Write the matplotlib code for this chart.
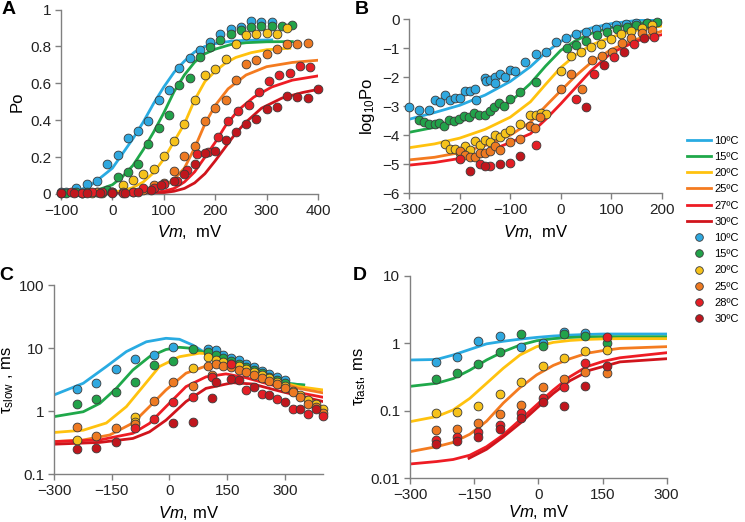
import numpy as np
import matplotlib.pyplot as plt
from matplotlib.lines import Line2D
from matplotlib.ticker import FixedLocator, NullLocator, FixedFormatter

plt.rcParams['font.family'] = ['Liberation Sans', 'DejaVu Sans']
plt.rcParams['mathtext.fontset'] = 'custom'
plt.rcParams['mathtext.rm'] = 'Liberation Sans'
plt.rcParams['mathtext.it'] = 'Liberation Sans:italic'

# ---- colours ----
line_cols = ['#29abe2', '#1fa84a', '#ffc20e', '#f47b20', '#ee1c24', '#d0141c']
dot_cols = ['#2fa8df', '#22a24a', '#f6c21b', '#ee7a22', '#e41e25', '#c0161d']
line_labels = ['10ºC', '15ºC', '20ºC', '25ºC', '27ºC', '30ºC']
dot_labels = ['10ºC', '15ºC', '20ºC', '25ºC', '28ºC', '30ºC']

# ---- panel A : Po vs Vm ----
a_v10 = [-100, -90, -70, -50, -30, -10, 10, 30, 50, 70, 90, 110, 130, 150, 170, 190, 210, 230, 250, 270, 290, 310]
a_p10 = [0.012, 0.012, 0.03, 0.054, 0.072, 0.163, 0.21, 0.305, 0.343, 0.396, 0.51, 0.562, 0.681, 0.735, 0.78, 0.822,
         0.865, 0.892, 0.907, 0.938, 0.934, 0.934]
a_v15 = [-90, -70, -50, -30, -10, 10, 30, 50, 70, 90, 110, 130, 150, 170, 190, 210, 230, 250, 270, 290, 310, 330, 350]
a_p15 = [0.005, 0.008, 0.01, 0.012, 0.02, 0.092, 0.12, 0.165, 0.272, 0.355, 0.427, 0.589, 0.629, 0.744, 0.796, 0.834,
         0.865, 0.89, 0.906, 0.913, 0.913, 0.913, 0.917]
a_v20 = [-60, -40, -20, 0, 20, 40, 60, 80, 100, 120, 140, 160, 180, 200, 220, 240, 260, 280, 300, 320, 340]
a_p20 = [0.005, 0.005, 0.005, 0.01, 0.05, 0.076, 0.11, 0.135, 0.205, 0.285, 0.377, 0.512, 0.647, 0.676, 0.732, 0.813,
         0.86, 0.867, 0.87, 0.867, 0.9]
a_v25 = [-60, -30, 0, 20, 40, 60, 80, 100, 120, 140, 160, 180, 200, 220, 240, 260, 280, 300, 320, 340, 360, 380]
a_p25 = [0.005, 0.01, 0.01, 0.01, 0.01, 0.02, 0.05, 0.06, 0.125, 0.207, 0.26, 0.398, 0.465, 0.51, 0.618, 0.703, 0.726,
         0.759, 0.786, 0.815, 0.815, 0.82]
a_v28 = [-100, -80, -60, -40, -20, 0, 20, 40, 60, 80, 100, 125, 145, 165, 185, 205, 225, 245, 265, 285, 305, 325, 345,
         365, 385]
a_p28 = [0.005, 0.01, 0.005, 0.01, 0.01, 0.01, 0.005, 0.01, 0.03, 0.03, 0.055, 0.07, 0.13, 0.217, 0.229, 0.307, 0.396,
         0.45, 0.481, 0.555, 0.612, 0.643, 0.658, 0.692, 0.688]
a_v30 = [-100, -75, -50, -25, 0, 25, 50, 75, 95, 120, 140, 160, 180, 200, 220, 240, 260, 280, 300, 320, 340, 360, 380,
         400]
a_p30 = [0.005, 0.005, 0.005, 0.005, 0.005, 0.005, 0.01, 0.02, 0.05, 0.07, 0.11, 0.163, 0.22, 0.235, 0.293, 0.338,
         0.379, 0.408, 0.463, 0.47, 0.529, 0.526, 0.522, 0.569]

af_v10 = [-100, -80, -60, -40, -20, 0, 20, 40, 60, 80, 100, 120, 140, 160, 180, 200, 230, 260, 310]
af_p10 = [0.01, 0.015, 0.025, 0.052, 0.095, 0.14, 0.22, 0.30, 0.39, 0.49, 0.58, 0.66, 0.72, 0.77, 0.80, 0.815, 0.828,
          0.833, 0.835]
af_v15 = [-100, -60, -40, -20, 0, 20, 40, 60, 80, 100, 120, 140, 160, 180, 200, 230, 260, 300, 350]
af_p15 = [0.005, 0.008, 0.015, 0.03, 0.05, 0.095, 0.155, 0.24, 0.335, 0.44, 0.555, 0.645, 0.715, 0.76, 0.785, 0.81,
          0.82, 0.825, 0.826]
af_v20 = [-100, -40, 0, 20, 40, 60, 80, 100, 120, 140, 160, 180, 200, 220, 240, 270, 300, 345]
af_p20 = [0.002, 0.003, 0.01, 0.018, 0.035, 0.065, 0.115, 0.19, 0.285, 0.38, 0.51, 0.61, 0.665, 0.71, 0.74, 0.766,
          0.782, 0.79]
af_v25 = [-100, 0, 40, 60, 80, 100, 120, 140, 160, 180, 200, 225, 260, 300, 350, 400]
af_p25 = [0.001, 0.003, 0.006, 0.01, 0.018, 0.04, 0.08, 0.14, 0.25, 0.38, 0.48, 0.57, 0.645, 0.69, 0.713, 0.725]
af_v27 = [-100, 0, 60, 100, 120, 140, 160, 180, 200, 220, 245, 275, 310, 350, 400]
af_p27 = [0.0005, 0.001, 0.005, 0.015, 0.03, 0.065, 0.12, 0.2, 0.28, 0.37, 0.455, 0.525, 0.58, 0.617, 0.64]
af_v30 = [-100, 0, 60, 100, 120, 140, 160, 180, 200, 220, 240, 260, 290, 330, 370, 400]
af_p30 = [0.0003, 0.0005, 0.002, 0.007, 0.015, 0.03, 0.06, 0.11, 0.18, 0.255, 0.33, 0.39, 0.465, 0.52, 0.55, 0.567]

# ---- panel B : log10 Po ----
bf_v = [-300, -250, -200, -150, -100, -60, -30, 0, 30, 60, 100, 150, 200]
bf_10 = [-3.45, -3.22, -2.97, -2.62, -2.15, -1.64, -1.16, -0.77, -0.5, -0.31, -0.16, -0.05, -0.01]
bf_15 = [-3.9, -3.73, -3.52, -3.25, -2.85, -2.22, -1.62, -1.08, -0.74, -0.5, -0.29, -0.15, -0.08]
bf_20 = [-4.43, -4.3, -4.1, -3.8, -3.38, -2.85, -2.25, -1.67, -1.23, -0.9, -0.62, -0.39, -0.24]
bf_25 = [-4.85, -4.76, -4.6, -4.36, -4.0, -3.55, -3.0, -2.47, -1.95, -1.5, -1.05, -0.7, -0.42]
bf_27 = [-5.03, -4.94, -4.8, -4.6, -4.25, -3.95, -3.46, -2.92, -2.35, -1.78, -1.17, -0.76, -0.54]

b_v10 = [-300, -280, -260, -250, -240, -230, -220, -210, -200, -190, -180, -170, -168, -150, -148, -140, -130, -130,
         -120, -110, -100, -90, -70, -50, -30, -10, 10, 30, 50, 70, 90, 110, 130, 150, 170]
b_l10 = [-3.02, -3.14, -3.14, -2.8, -2.87, -2.6, -2.8, -2.73, -2.71, -2.48, -2.48, -2.42, -2.78, -2.03, -2.12, -2.1,
         -2.01, -2.19, -1.9, -1.98, -1.76, -1.78, -1.47, -1.22, -1.12, -0.78, -0.67, -0.5, -0.45, -0.36, -0.28, -0.22,
         -0.17, -0.13, -0.13]
b_v15 = [-280, -270, -260, -250, -241, -231, -221, -211, -201, -191, -181, -171, -161, -151, -141, -132, -122, -112,
         -100, -81, -50, 12, 30, 51, 71, 91, 111, 131, 150, 170, 190]
b_l15 = [-3.48, -3.55, -3.6, -3.63, -3.59, -3.68, -3.47, -3.5, -3.44, -3.34, -3.36, -3.25, -3.3, -3.3, -3.15, -3.04,
         -2.9, -2.99, -2.76, -2.5, -2.18, -1.01, -0.89, -0.75, -0.55, -0.44, -0.36, -0.26, -0.21, -0.13, -0.09]
b_v20 = [-230, -220, -210, -200, -190, -180, -170, -160, -150, -140, -130, -120, -110, -100, -80, -60, -50, -40, -30,
         0, 20, 40, 60, 80, 100, 120, 140, 160, 180]
b_l20 = [-4.3, -4.47, -4.47, -4.62, -4.38, -4.5, -4.2, -4.35, -4.18, -4.22, -4.0, -4.05, -3.93, -3.82, -3.62, -3.3,
         -3.3, -3.25, -3.28, -1.8, -1.28, -1.12, -0.98, -0.86, -0.68, -0.52, -0.42, -0.3, -0.2]
b_v25 = [-200, -190, -180, -170, -160, -150, -140, -130, -120, -100, -81, -61, -51, -41, 0, 20, 42, 61, 81, 101, 121,
         140, 160, 180]
b_l25 = [-4.56, -4.68, -4.74, -4.74, -4.62, -4.62, -4.56, -4.36, -4.5, -4.22, -4.14, -3.68, -3.76, -3.36, -2.42, -1.88,
         -2.42, -1.41, -1.27, -1.12, -0.84, -0.67, -0.49, -0.38]
b_v28 = [-200, -160, -140, -100, -50, 30, 65, 105, 145, 185]
b_l28 = [-4.82, -4.98, -5.05, -4.97, -4.33, -2.75, -1.9, -1.32, -0.87, -0.62]
b_v30 = [-180, -150, -120, -80, 50, 85, 125, 165]
b_l30 = [-5.22, -5.05, -5.0, -4.7, -3.02, -1.6, -1.12, -0.65]

# ---- panel C : tau slow ----
cf_v10 = [-300, -224, -164, -112, -60, -9, 26, 60, 95, 147, 198, 250, 302, 349]
cf_t10 = [1.81, 2.77, 5.1, 8.8, 12.6, 14.3, 13.8, 11.2, 8.3, 5.7, 4.2, 3.3, 2.77, 2.6]
cf_v15 = [-300, -224, -181, -138, -95, -52, -9, 26, 60, 95, 147, 198, 250, 302, 349]
cf_t15 = [0.82, 0.98, 1.33, 2.3, 4.5, 7.3, 9.5, 10.3, 9.9, 8.3, 5.7, 4.2, 3.3, 2.77, 2.6]
cf_v20 = [-300, -224, -164, -112, -69, -26, 26, 78, 112, 164, 250, 336, 400]
cf_t20 = [0.46, 0.5, 0.65, 1.18, 2.45, 5.1, 7.3, 8.3, 8.05, 5.7, 3.3, 2.45, 2.17]
cf_v25 = [-300, -224, -155, -95, -52, -9, 43, 95, 147, 198, 267, 336, 400]
cf_t25 = [0.33, 0.35, 0.42, 0.65, 1.18, 2.17, 4.0, 5.2, 5.4, 4.5, 3.1, 2.3, 1.95]
cf_v27 = [-300, -181, -95, -52, -9, 43, 95, 147, 198, 267, 336, 400]
cf_t27 = [0.33, 0.35, 0.446, 0.64, 1.18, 2.45, 3.5, 3.9, 3.4, 2.6, 1.97, 1.66]
cf_v30 = [-300, -181, -95, -52, -9, 43, 95, 164, 216, 284, 353, 400]
cf_t30 = [0.3, 0.32, 0.37, 0.47, 0.72, 1.42, 2.3, 2.83, 2.7, 2.1, 1.66, 1.42]

c_v10 = [-240, -190, -140, -90, -40, 10, 100, 120, 140, 160, 180, 200, 220, 240, 260, 280, 300]
c_t10 = [2.25, 2.83, 4.67, 6.8, 7.7, 10.3, 9.8, 9.3, 7.9, 6.9, 6.4, 5.7, 5.0, 4.4, 3.9, 3.5, 3.1]
c_v15 = [-240, -190, -140, -90, -40, 10, 60, 100, 120, 140, 160, 180, 200, 220, 240, 260, 280, 300]
c_t15 = [1.3, 1.56, 2.04, 2.86, 5.4, 6.3, 9.7, 8.6, 7.8, 7.0, 6.3, 5.7, 5.1, 4.5, 4.0, 3.5, 3.1, 2.8]
c_v20 = [-240, -90, -90, 60, 100, 120, 140, 160, 180, 200, 220, 240, 260, 280, 300, 320, 340, 360, 380, 400]
c_t20 = [0.35, 0.8, 0.68, 4.8, 7.3, 6.5, 6.1, 5.6, 5.2, 4.7, 4.2, 3.7, 3.3, 2.9, 2.5, 2.1, 1.8, 1.5, 1.3, 1.1]
c_v25 = [-240, -190, -140, -90, -40, 10, 60, 100, 110, 120, 140, 160, 180, 200, 220, 240, 260, 280, 300, 320, 340, 360,
         380, 400]
c_t25 = [0.57, 0.4, 0.54, 0.62, 1.47, 2.9, 2.5, 5.2, 3.75, 5.6, 5.3, 5.0, 4.5, 4.2, 3.8, 3.4, 3.0, 2.7, 2.3, 2.0, 1.7,
         1.3, 1.15, 0.95]
c_v28 = [-90, -40, 10, 60, 110, 160, 200, 240, 280, 320, 360, 400]
c_t28 = [0.55, 0.75, 1.42, 1.66, 3.5, 5.5, 2.2, 1.9, 1.55, 1.1, 0.9, 0.85]
c_v30 = [-240, -190, -140, 10, 60, 110, 120, 160, 180, 220, 260, 300, 340, 380]
c_t30 = [0.25, 0.26, 0.32, 0.65, 0.67, 1.6, 2.9, 3.2, 3.1, 2.4, 1.8, 1.4, 1.1, 1.07]

# ---- panel D : tau fast ----
df_v = [-300, -238, -199, -160, -121, -82, -43, -4, 35, 74, 113, 152, 191, 300]
df_10 = [0.565, 0.575, 0.67, 0.81, 0.98, 1.07, 1.15, 1.22, 1.28, 1.32, 1.35, 1.37, 1.37, 1.37]
df_15 = [0.23, 0.255, 0.30, 0.40, 0.565, 0.75, 0.94, 1.09, 1.17, 1.22, 1.24, 1.25, 1.25, 1.25]
df_20 = [0.069, 0.082, 0.103, 0.153, 0.255, 0.426, 0.67, 0.89, 1.03, 1.1, 1.14, 1.16, 1.17, 1.17]
df_25 = [0.0248, 0.0294, 0.034, 0.045, 0.07, 0.13, 0.22, 0.34, 0.47, 0.59, 0.71, 0.78, 0.84, 0.89]
df_27 = [0.0163, 0.0177, 0.019, 0.022, 0.0294, 0.044, 0.073, 0.122, 0.203, 0.32, 0.45, 0.54, 0.61, 0.724]
df_v30 = [-162, -121, -82, -43, -4, 35, 74, 121, 191, 300]
df_30 = [0.0198, 0.0269, 0.041, 0.065, 0.109, 0.181, 0.279, 0.40, 0.53, 0.59]

d_v = [-240, -190, -140, -90, -40, 10, 60, 110, 160]
d_10 = [0.52, 0.62, 1.08, 1.28, 0.89, 1.0, 1.45, 1.42]
d_15 = [0.296, 0.359, 0.488, 0.74, 1.36, 0.91, 1.37, 1.28, 1.0]
d_20 = [0.092, 0.097, 0.119, 0.175, 0.27, 0.46, 0.6, 0.78, 0.8]
d_25 = [0.052, 0.054, 0.067, 0.09, 0.122, 0.222, 0.3, 0.38, 0.366]
d_28 = [0.037, 0.041, 0.048, 0.062, 0.094, 0.153, 0.228, 0.515, 1.22]
d_30 = [0.032, 0.036, 0.041, 0.053, 0.079, 0.136, 0.118, 0.233, 0.46]

fig = plt.figure(figsize=(7.45, 5.22), dpi=100)

axA = fig.add_axes([0.0819, 0.6284, 0.3450, 0.3534])
axB = fig.add_axes([0.5494, 0.6297, 0.3388, 0.3339])
axC = fig.add_axes([0.0725, 0.0914, 0.3615, 0.3626])
axD = fig.add_axes([0.5503, 0.0837, 0.3446, 0.3881])

LW = 2.0
MS = 40


def dots(ax, x, y, c):
    ax.scatter(x, y, s=MS, color=c, edgecolors='#3a3a3a', linewidths=0.6, zorder=3, clip_on=False)


def style(ax):
    for s in ['top', 'right']:
        ax.spines[s].set_visible(False)
    for s in ['left', 'bottom']:
        ax.spines[s].set_color('#808080')
        ax.spines[s].set_linewidth(1.0)
    ax.tick_params(direction='out', length=4, width=1.0, color='#808080', labelsize=11, labelcolor='#222222', pad=3)


xlab = r'$\mathit{Vm}$,  mV'

# A
fits = [(af_v10, af_p10), (af_v15, af_p15), (af_v20, af_p20), (af_v25, af_p25), (af_v27, af_p27), (af_v30, af_p30)]
for (x, y), c in zip(fits, line_cols):
    axA.plot(x, y, color=c, lw=LW, zorder=2)
pts = [(a_v10, a_p10), (a_v15, a_p15), (a_v20, a_p20), (a_v25, a_p25), (a_v28, a_p28), (a_v30, a_p30)]
for (x, y), c in zip(pts, dot_cols):
    dots(axA, x, y, c)
axA.set_xlim(-100, 400)
axA.set_ylim(0, 1)
axA.set_xticks([-100, 0, 100, 200, 300, 400])
axA.set_yticks([0, 0.2, 0.4, 0.6, 0.8, 1])
axA.set_yticklabels(['0', '0.2', '0.4', '0.6', '0.8', '1'])
axA.set_ylabel('Po', fontsize=12, labelpad=4)
axA.set_xlabel(xlab, fontsize=12, labelpad=4)
style(axA)

# B
for y, c in zip([bf_10, bf_15, bf_20, bf_25, bf_27], line_cols[:5]):
    axB.plot(bf_v, y, color=c, lw=LW, zorder=2)
pts = [(b_v10, b_l10), (b_v15, b_l15), (b_v20, b_l20), (b_v25, b_l25), (b_v28, b_l28), (b_v30, b_l30)]
for (x, y), c in zip(pts, dot_cols):
    dots(axB, x, y, c)
axB.set_xlim(-300, 200)
axB.set_ylim(-6, 0)
axB.set_xticks([-300, -200, -100, 0, 100, 200])
axB.set_yticks([-6, -5, -4, -3, -2, -1, 0])
axB.set_ylabel('log$_{10}$Po', fontsize=12, labelpad=4)
axB.set_xlabel(xlab, fontsize=12, labelpad=4)
style(axB)

# C
fits = [(cf_v10, cf_t10), (cf_v15, cf_t15), (cf_v20, cf_t20), (cf_v25, cf_t25), (cf_v27, cf_t27), (cf_v30, cf_t30)]
for (x, y), c in zip(fits, line_cols):
    axC.plot(x, y, color=c, lw=LW, zorder=2)
pts = [(c_v10, c_t10), (c_v15, c_t15), (c_v20, c_t20), (c_v25, c_t25), (c_v28, c_t28), (c_v30, c_t30)]
for (x, y), c in zip(pts, dot_cols):
    dots(axC, x, y, c)
axC.set_yscale('log')
axC.set_xlim(-300, 400)
axC.set_ylim(0.1, 100)
axC.set_xticks([-300, -150, 0, 150, 300])
axC.yaxis.set_major_locator(FixedLocator([0.1, 1, 10, 100]))
axC.yaxis.set_major_formatter(FixedFormatter(['0.1', '1', '10', '100']))
axC.yaxis.set_minor_locator(NullLocator())
axC.set_ylabel('τ$_{\\rm slow}$ , ms', fontsize=12, labelpad=2)
axC.set_xlabel(r'$\mathit{Vm}$, mV', fontsize=12, labelpad=4)
style(axC)

# D
for y, c in zip([df_10, df_15, df_20, df_25, df_27], line_cols[:5]):
    axD.plot(df_v, y, color=c, lw=LW, zorder=2)
axD.plot(df_v30, df_30, color=line_cols[5], lw=LW, zorder=2)
pts = [d_10, d_15, d_20, d_25, d_28, d_30]
for y, c in zip(pts, dot_cols):
    dots(axD, d_v[:len(y)], y, c)
axD.set_yscale('log')
axD.set_xlim(-300, 300)
axD.set_ylim(0.01, 10)
axD.set_xticks([-300, -150, 0, 150, 300])
axD.yaxis.set_major_locator(FixedLocator([0.01, 0.1, 1, 10]))
axD.yaxis.set_major_formatter(FixedFormatter(['0.01', '0.1', '1', '10']))
axD.yaxis.set_minor_locator(NullLocator())
axD.set_ylabel('τ$_{\\rm fast}$, ms', fontsize=12, labelpad=2)
axD.set_xlabel(r'$\mathit{Vm}$, mV', fontsize=12, labelpad=1)
style(axD)

# panel letters
for lab, x, y in [('A', 0.011, 0.981), ('B', 0.486, 0.981), ('C', 0.009, 0.473), ('D', 0.483, 0.473)]:
    fig.text(x, y, lab, fontsize=14, fontweight='bold', ha='center', va='center')

# legend
handles = [Line2D([], [], color=c, lw=LW) for c in line_cols]
handles += [Line2D([], [], ls='none', marker='o', mfc=c, mec='#3a3a3a', mew=0.6, ms=5.5) for c in dot_cols]
fig.legend(handles, line_labels + dot_labels, loc='upper left', bbox_to_anchor=(0.922, 0.74), frameon=False,
           fontsize=8, handlelength=2.2, handletextpad=0.25, labelspacing=0.56, borderaxespad=0, borderpad=0)

fig.savefig('out.png', dpi=100)
